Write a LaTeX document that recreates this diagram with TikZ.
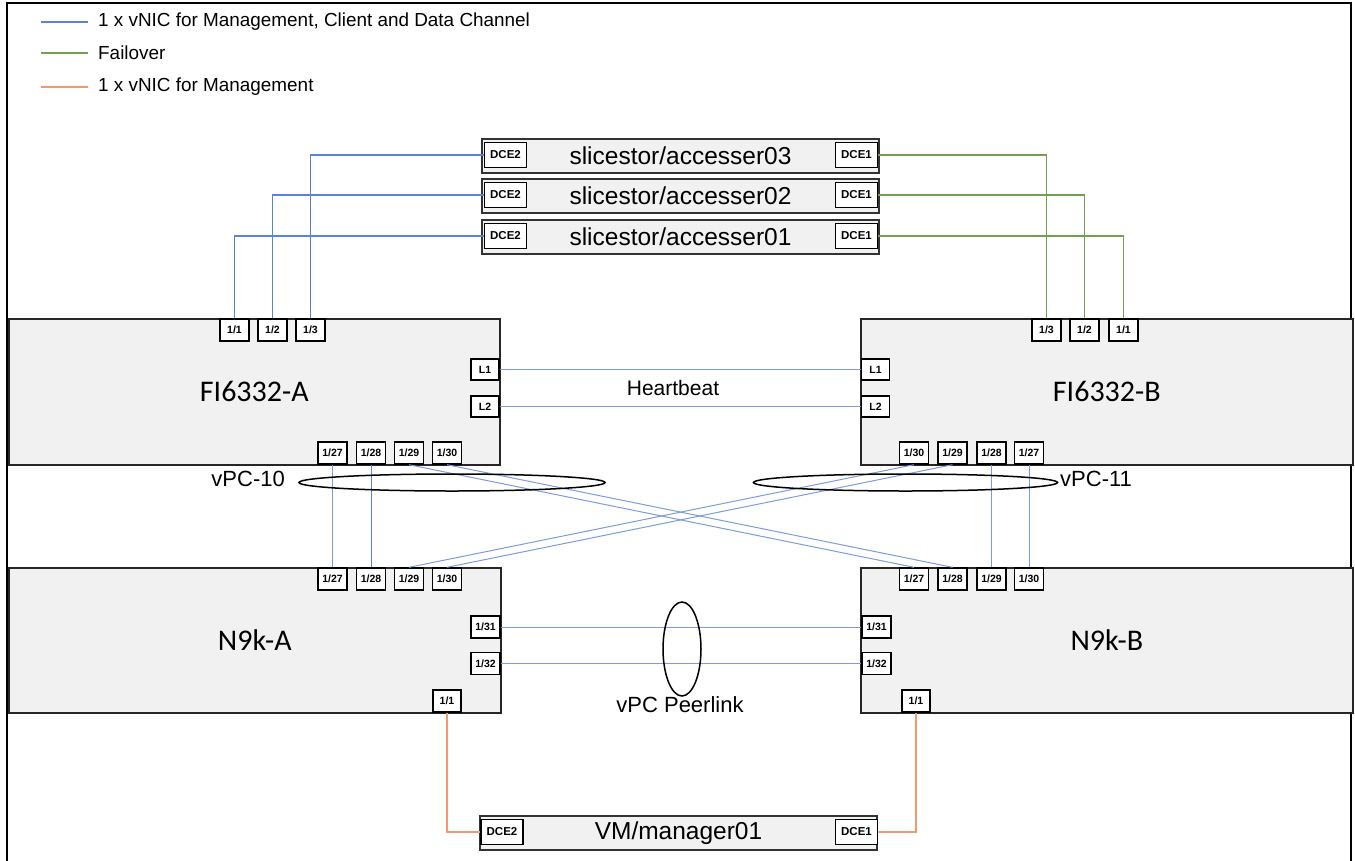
\documentclass[tikz,border=0pt]{standalone}
\usepackage{fontspec}
\setmainfont{Liberation Sans}
\newfontfamily\calfont{Carlito}
\definecolor{lnblue}{RGB}{90,130,215}
\definecolor{lnlight}{RGB}{125,155,225}
\definecolor{lngreen}{RGB}{112,160,80}
\definecolor{lnorange}{RGB}{240,155,105}
\definecolor{boxgray}{RGB}{241,241,241}
\begin{document}
\begin{tikzpicture}[x=1pt,y=-1pt,
  box/.style={draw=black!85, line width=1.6pt, fill=boxgray, inner sep=0pt, anchor=north west, font=\calfont\fontsize{30}{34}\selectfont},
  srv/.style={draw=black!80, line width=2pt, fill=boxgray, inner sep=0pt, anchor=north west, minimum width=397pt, minimum height=34pt, font=\fontsize{24.5}{28}\selectfont},
  port/.style={draw=black, line width=1.4pt, fill=white, inner sep=0pt, minimum width=29pt, minimum height=22pt, font=\bfseries\fontsize{10.5}{11}\selectfont},
  dce/.style={port, minimum width=42pt, minimum height=25pt, font=\bfseries\fontsize{11.5}{12}\selectfont},
  bl/.style={lnblue, line width=1.2pt},
  gl/.style={lngreen, line width=1.2pt},
  ol/.style={lnorange, line width=1.2pt},
  thin/.style={lnlight, line width=1pt},
  lbl/.style={font=\fontsize{22}{26}\selectfont, inner sep=0pt},
  leg/.style={font=\fontsize{18.9}{22}\selectfont, inner sep=0pt, anchor=west}
]
\useasboundingbox (0,0) rectangle (1355,860);
\begin{scope}
\clip (0,0) rectangle (1355,860);
\draw[line width=2.4pt] (7,3) rectangle (1351,900);
\end{scope}

% legend
\coordinate (lb1) at (41,22); \coordinate (lb2) at (88,22);
\coordinate (lg1) at (41,53); \coordinate (lg2) at (88,53);
\coordinate (lo1) at (41,87); \coordinate (lo2) at (88,87);
\draw[bl] (lb1) -- (lb2);
\draw[gl] (lg1) -- (lg2);
\draw[ol] (lo1) -- (lo2);
\node[leg] (legb) at (98,22) {1 x vNIC for Management, Client and Data Channel};
\node[leg] (legg) at (98,53) {Failover};
\node[leg] (lego) at (98,87) {1 x vNIC for Management};

% servers
\node[srv] (acc03) at (481,138) {slicestor/accesser03};
\node[srv] (acc02) at (481,178) {slicestor/accesser02};
\node[srv] (acc01) at (481,219) {slicestor/accesser01};
\node[dce] (acc03d2) at (505.5,155) {DCE2};
\node[dce] (acc02d2) at (505.5,195) {DCE2};
\node[dce] (acc01d2) at (505.5,236) {DCE2};
\node[dce] (acc03d1) at (856.5,155) {DCE1};
\node[dce] (acc02d1) at (856.5,195) {DCE1};
\node[dce] (acc01d1) at (856.5,236) {DCE1};

% switches
\node[box, minimum width=491pt, minimum height=146pt] (fia) at (8,318) {FI6332-A};
\node[box, minimum width=492pt, minimum height=146pt] (fib) at (860,318) {FI6332-B};
\node[box, minimum width=492pt, minimum height=145pt] (na) at (8,567) {N9k-A};
\node[box, minimum width=492pt, minimum height=145pt] (nb) at (860,567) {N9k-B};

% FI-A ports
\node[port] (fia11) at (234.5,330) {1/1};
\node[port] (fia12) at (272.5,330) {1/2};
\node[port] (fia13) at (310.5,330) {1/3};
\node[port, minimum width=28pt, minimum height=21pt] (fial1) at (485,369.5) {L1};
\node[port, minimum width=28pt, minimum height=21pt] (fial2) at (485,406.5) {L2};
\node[port] (fia27) at (332.5,453) {1/27};
\node[port] (fia28) at (371,453) {1/28};
\node[port] (fia29) at (409,453) {1/29};
\node[port] (fia30) at (447,453) {1/30};
% FI-B ports
\node[port] (fib13) at (1046.5,330) {1/3};
\node[port] (fib12) at (1084.5,330) {1/2};
\node[port] (fib11) at (1123.5,330) {1/1};
\node[port, minimum width=28pt, minimum height=21pt] (fibl1) at (875.5,369.5) {L1};
\node[port, minimum width=28pt, minimum height=21pt] (fibl2) at (875.5,406.5) {L2};
\node[port] (fib30) at (914,453) {1/30};
\node[port] (fib29) at (952.5,453) {1/29};
\node[port] (fib28) at (991.5,453) {1/28};
\node[port] (fib27) at (1029,453) {1/27};
% N9k-A ports
\node[port] (na27) at (332.5,579) {1/27};
\node[port] (na28) at (371,579) {1/28};
\node[port] (na29) at (409,579) {1/29};
\node[port] (na30) at (447,579) {1/30};
\node[port] (na31) at (485.5,627) {1/31};
\node[port] (na32) at (485.5,663.5) {1/32};
\node[port, minimum width=28pt] (na11) at (447,701) {1/1};
% N9k-B ports
\node[port] (nb27) at (914,579) {1/27};
\node[port] (nb28) at (952.5,579) {1/28};
\node[port] (nb29) at (991.5,579) {1/29};
\node[port] (nb30) at (1029,579) {1/30};
\node[port] (nb31) at (876.5,627) {1/31};
\node[port] (nb32) at (876.5,663.5) {1/32};
\node[port, minimum width=28pt] (nb11) at (916,701) {1/1};

% manager
\node[srv] (vm) at (479,815) {VM/manager01};
\node[dce] (vmd2) at (502,832) {DCE2};
\node[dce] (vmd1) at (856.5,832) {DCE1};

% server links
\draw[bl] (acc03d2.west) -| (fia13.north);
\draw[bl] (acc02d2.west) -| (fia12.north);
\draw[bl] (acc01d2.west) -| (fia11.north);
\draw[gl] (acc03d1.east) -| (fib13.north);
\draw[gl] (acc02d1.east) -| (fib12.north);
\draw[gl] (acc01d1.east) -| (fib11.north);

% heartbeat
\draw[thin] (fial1.east) -- (fibl1.west);
\draw[thin] (fial2.east) -- (fibl2.west);
\node[lbl, font=\fontsize{21}{24}\selectfont] (hb) at (673,388) {Heartbeat};

% uplinks
\draw[thin] (fia27.south) -- (na27.north);
\draw[bl, line width=1pt] (fia28.south) -- (na28.north);
\draw[thin] (fia29.south) -- (nb27.north);
\draw[thin] (fia30.south) -- (nb28.north);
\draw[thin] (na29.north) -- (fib30.south);
\draw[thin] (na30.north) -- (fib29.south);
\draw[thin] (fib28.south) -- (nb29.north);
\draw[thin] (fib27.south) -- (nb30.north);

% peerlink
\draw[thin] (na31.east) -- (nb31.west);
\draw[thin] (na32.east) -- (nb32.west);

% management
\draw[ol] (na11.south) |- (vmd2.west);
\draw[ol] (nb11.south) |- (vmd1.east);

% vPC ellipses
\draw[line width=1.5pt] (452,482.5) ellipse [x radius=153pt, y radius=8.5pt];
\draw[line width=1.5pt] (905.5,482.5) ellipse [x radius=152pt, y radius=8.5pt];
\draw[line width=1.5pt] (682,649) ellipse [x radius=19pt, y radius=47pt];
\node[lbl, anchor=east] (vpc10) at (285,479) {vPC-10};
\node[lbl, anchor=west] (vpc11) at (1060,479) {vPC-11};
\node[lbl] (vpcpl) at (680,705) {vPC Peerlink};
\end{tikzpicture}
\end{document}
